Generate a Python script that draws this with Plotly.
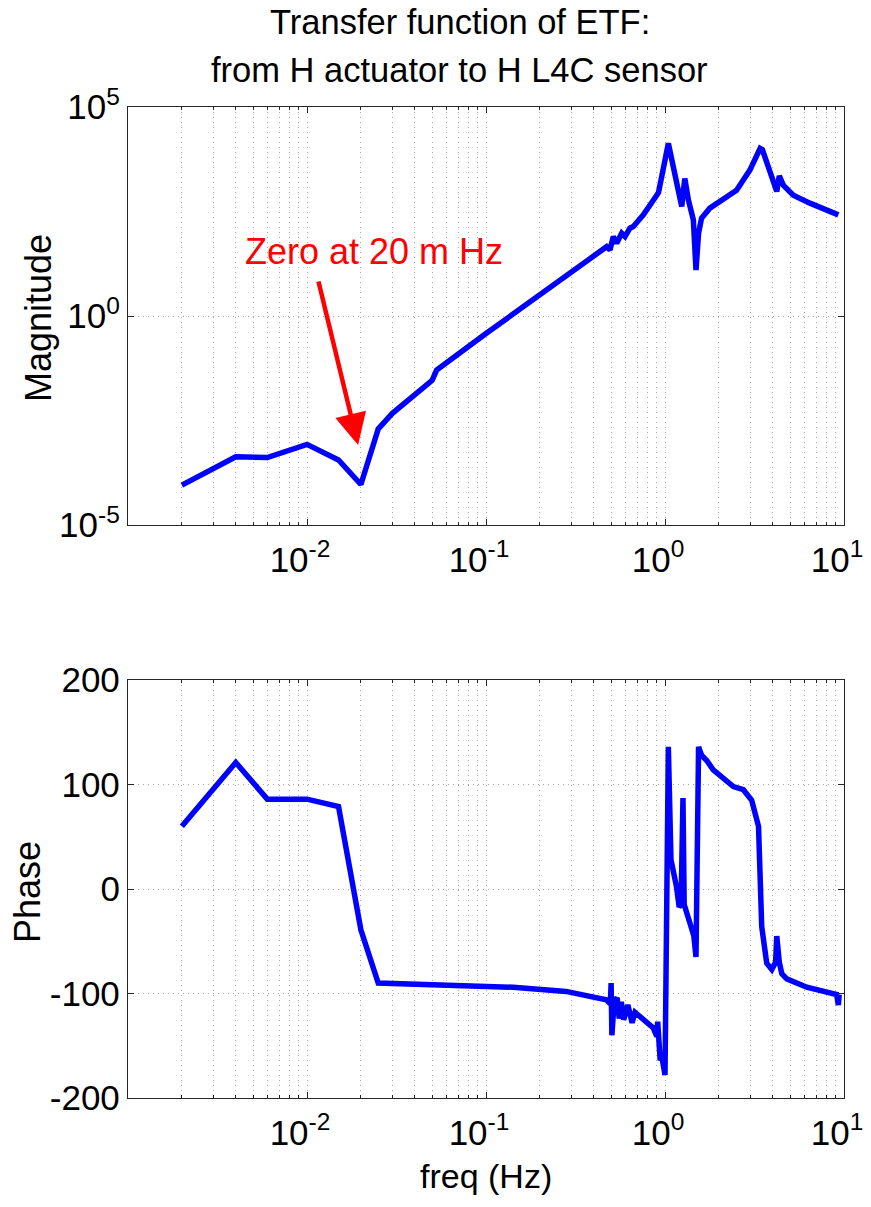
import math
import plotly.graph_objects as go

# ---------------- data ----------------
freq_mag = [0.002, 0.004, 0.006, 0.01, 0.015, 0.02, 0.025, 0.03, 0.05, 0.053,
            0.1, 0.3, 0.472, 0.493, 0.514, 0.537, 0.573, 0.598, 0.637, 0.665,
            0.757, 0.899, 0.92, 1.044, 1.14, 1.24, 1.29, 1.35, 1.44, 1.49,
            1.54, 1.60, 1.78, 2.36, 2.51, 2.98, 3.40, 3.50, 4.21, 4.35,
            4.58, 5.21, 6.45, 9.3]
mag = [9e-5, 4.3e-4, 4.1e-4, 8.5e-4, 3.6e-4, 9.3e-5, 2.0e-3, 4.7e-3, 2.9e-2, 5.1e-2,
       0.38, 11.5, 45.5, 38.0, 79.4, 55.0, 95.5, 79.4, 126.0, 138.0,
       263.0, 776.0, 900.0, 13500.0, 2140.0, 417.0, 1950.0, 603.0, 200.0, 12.6,
       95.5, 219.0, 380.0, 871.0, 1020.0, 3090.0, 10200.0, 9500.0, 955.0, 2240.0,
       1350.0, 776.0, 501.0, 263.0]

freq_phase = [0.002, 0.004, 0.006, 0.01, 0.015, 0.02, 0.025, 0.1, 0.142, 0.28,
              0.47, 0.495, 0.50, 0.505, 0.52, 0.54, 0.555, 0.57, 0.588, 0.62,
              0.655, 0.68, 0.75, 0.86, 0.90, 0.91, 0.94, 0.96, 1.0, 1.044,
              1.08, 1.16, 1.20, 1.23, 1.26, 1.28, 1.38, 1.45, 1.49, 1.54,
              1.60, 1.71, 1.86, 2.41, 2.74, 3.05, 3.33, 3.47, 3.70, 3.95,
              4.15, 4.21, 4.35, 4.49, 4.79, 6.19, 9.1, 9.3, 9.4]
phase = [60, 121, 86, 86, 79, -39, -90, -93, -94, -98,
         -106, -110, -90, -140, -108, -104, -124, -108, -125, -111,
         -128, -118, -124, -133, -141, -127, -164, -160, -178, 136,
         28, 2, -17, -15, 87, -15, -33, -45, -65, 136,
         128, 123, 114, 98, 95, 85, 60, -36, -71, -77,
         -70, -45, -70, -81, -86, -94, -101, -111, -101]

x_tickvals = [0.01, 0.1, 1, 10]
x_ticktext = ["10<sup>-2</sup>", "10<sup>-1</sup>", "10<sup>0</sup>", "10<sup>1</sup>"]
mag_tickvals = [1e-5, 1, 1e5]
mag_ticktext = ["10<sup>-5</sup>", "10<sup>0</sup>", "10<sup>5</sup>"]
phase_tickvals = [-200, -100, 0, 100, 200]
phase_ticktext = ["-200", "-100", "0", "100", "200"]

title_lines = ["Transfer function of ETF:", "from H actuator to H L4C sensor"]
note_text = "Zero at 20 m Hz"
note_freq = 0.0193
note_mag = 8.2e-4

# ---------------- figure ----------------
W, H = 871, 1207
FONT = "Liberation Sans, Arial, Helvetica, sans-serif"
BLUE = "#0000ff"
RED = "#ff0000"
AX = "#262626"
GRID = "#a8a8a8"
GDASH = "1px,4px"


def px(x):
    return x / W


def py(y):
    return 1 - y / H


minor_vals = [m * 10.0 ** e for e in range(-3, 1) for m in range(2, 10)]

fig = go.Figure()
fig.add_trace(go.Scatter(x=freq_mag, y=mag, mode="lines",
                         line=dict(color=BLUE, width=5.5), xaxis="x", yaxis="y",
                         showlegend=False, hoverinfo="skip"))
fig.add_trace(go.Scatter(x=freq_phase, y=phase, mode="lines",
                         line=dict(color=BLUE, width=5.5), xaxis="x2", yaxis="y2",
                         showlegend=False, hoverinfo="skip"))

xcommon = dict(type="log", range=[-3, 1], tickmode="array", tickvals=x_tickvals,
               ticktext=x_ticktext, ticks="inside", ticklen=6, tickwidth=1,
               tickcolor=AX, showline=True, linecolor=AX, linewidth=1.3,
               mirror="allticks", showgrid=True, gridcolor=GRID, griddash=GDASH,
               gridwidth=1, zeroline=False, automargin=False, ticklabelshift=-7,
               ticklabelstandoff=4,
               tickfont=dict(family=FONT, size=35, color="#000"),
               minor=dict(tickmode="array", tickvals=minor_vals, ticks="inside",
                          ticklen=3, tickcolor=AX, showgrid=True,
                          gridcolor=GRID, griddash=GDASH, gridwidth=1),
               domain=[px(128), px(844)])

ycommon = dict(ticks="inside", ticklen=6, tickwidth=1, tickcolor=AX,
               showline=True, linecolor=AX, linewidth=1.3, mirror="allticks",
               showgrid=True, gridcolor=GRID, griddash=GDASH, gridwidth=1,
               zeroline=False, tickmode="array", automargin=False,
               tickfont=dict(family=FONT, size=35, color="#000"))

fig.update_layout(
    width=W, height=H,
    margin=dict(l=0, r=0, t=0, b=0, pad=0),
    paper_bgcolor="white", plot_bgcolor="white",
    font=dict(family=FONT, color="#000"),
    xaxis=dict(xcommon, anchor="y"),
    yaxis=dict(ycommon, type="log", range=[-5, 5], tickvals=mag_tickvals,
               ticktext=mag_ticktext, domain=[py(525), py(107)], anchor="x"),
    xaxis2=dict(xcommon, anchor="y2"),
    yaxis2=dict(ycommon, range=[-200, 200], tickvals=phase_tickvals,
                ticktext=phase_ticktext, domain=[py(1098), py(680)], anchor="x2"),
)

annotations = [
    dict(text=title_lines[0], x=px(460), y=py(22), xref="paper", yref="paper",
         showarrow=False, xanchor="center", yanchor="middle",
         font=dict(family=FONT, size=34.5, color="#000")),
    dict(text=title_lines[1], x=px(460), y=py(70), xref="paper", yref="paper",
         showarrow=False, xanchor="center", yanchor="middle",
         font=dict(family=FONT, size=34.5, color="#000")),
    dict(text="Magnitude", x=px(38), y=py(318), xref="paper", yref="paper",
         showarrow=False, textangle=-90, xanchor="center", yanchor="middle",
         font=dict(family=FONT, size=36, color="#000")),
    dict(text="Phase", x=px(27), y=py(892), xref="paper", yref="paper",
         showarrow=False, textangle=-90, xanchor="center", yanchor="middle",
         font=dict(family=FONT, size=36, color="#000")),
    dict(text="freq (Hz)", x=px(486), y=py(1176), xref="paper", yref="paper",
         showarrow=False, xanchor="center", yanchor="middle",
         font=dict(family=FONT, size=34, color="#000")),
    dict(text=note_text, x=px(243), y=py(252), xref="paper", yref="paper",
         showarrow=False, xanchor="left", yanchor="middle",
         font=dict(family=FONT, size=36, color=RED)),
    dict(text="", x=math.log10(note_freq), y=math.log10(note_mag),
         xref="x", yref="y", ax=-40, ay=-165, axref="pixel", ayref="pixel",
         showarrow=True, arrowhead=2, arrowsize=1.4, arrowwidth=4.5,
         arrowcolor=RED),
]
fig.update_layout(annotations=annotations)

fig.write_html("out.html", config={"displayModeBar": False},
               post_script=["document.body.style.margin='0px';"
                            "document.body.style.overflow='hidden';"])
